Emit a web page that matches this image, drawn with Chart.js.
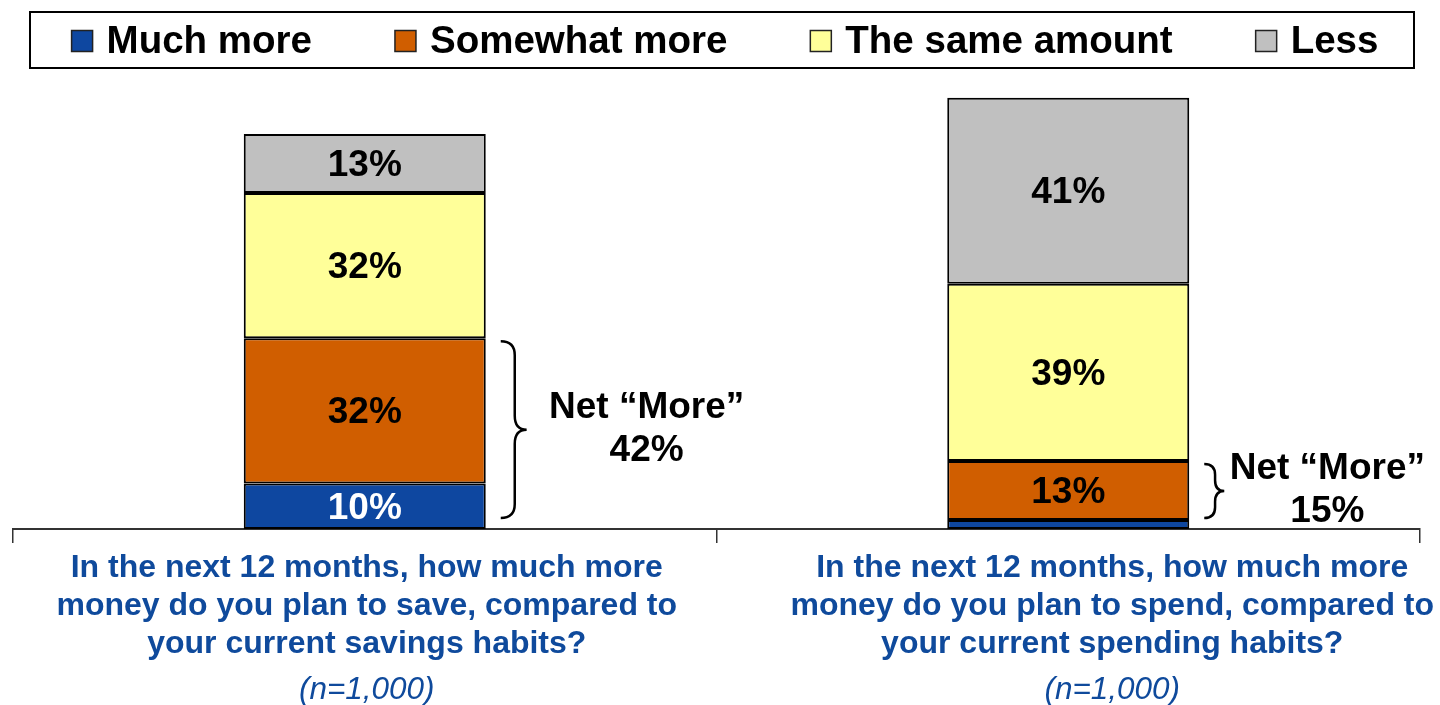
<!DOCTYPE html>
<html>
<head>
<meta charset="utf-8">
<title>Saving vs spending plans</title>
<script src="https://cdn.jsdelivr.net/npm/chart.js@4.4.1/dist/chart.umd.min.js"></script>
<style>
  html, body { margin: 0; padding: 0; background: #fff; }
  #wrap { width: 1440px; height: 705px; }
</style>
</head>
<body>
<div id="wrap"><canvas id="surveyChart" width="1440" height="705"></canvas></div>
<script>
// chart values
const categories = ["Save", "Spend"];
const seriesNames = ["Much more", "Somewhat more", "The same amount", "Less"];
const muchMore = [10, 2];
const somewhatMore = [32, 13];
const sameAmount = [32, 39];
const less = [13, 41];
const netMore = [42, 15];
const questionLines = [
    ["In the next 12 months, how much more", "money do you plan to save, compared to", "your current savings habits?"],
    ["In the next 12 months, how much more", "money do you plan to spend, compared to", "your current spending habits?"]
];
const sampleNote = ["(n=1,000)", "(n=1,000)"];

const seriesColors = ["#0E47A0", "#D05E00", "#FFFF99", "#C0C0C0"];
const labelColors = ["#ffffff", "#000000", "#000000", "#000000"];
const questionBlue = "#0F4A9C";
const FONT = "Arial, 'Liberation Sans', Helvetica, sans-serif";

document.addEventListener("DOMContentLoaded", () => {
    const ctx = document.getElementById("surveyChart").getContext("2d");

    // legend drawn in a framed box along the top
    const boxedLegend = {
        id: "boxedLegend",
        afterDraw(chart) {
            const c = chart.ctx;
            const mid = chart.width / 2 + 2;
            c.save();
            c.strokeStyle = "#000";
            c.lineWidth = 2;
            c.strokeRect(mid - 692, 12, 1384, 56);
            c.font = "bold 38.5px " + FONT;
            c.textBaseline = "middle";
            const items = chart.data.datasets.map(ds => ({ text: ds.label, color: ds.backgroundColor, w: c.measureText(ds.label).width }));
            const gap = 83, sw = 21, tgap = 14;
            let total = items.reduce((s, it) => s + sw + tgap + it.w, 0) + gap * (items.length - 1);
            let x = mid + 3 - total / 2;
            items.forEach(it => {
                c.fillStyle = it.color;
                c.fillRect(x, 30.5, sw, sw);
                c.lineWidth = 1.5;
                c.strokeStyle = "#222";
                c.strokeRect(x, 30.5, sw, sw);
                c.fillStyle = "#000";
                c.fillText(it.text, x + sw + tgap, 42);
                x += sw + tgap + it.w + gap;
            });
            c.restore();
        }
    };

    // percentages inside the segments
    const segmentLabels = {
        id: "segmentLabels",
        afterDatasetsDraw(chart) {
            const c = chart.ctx;
            c.save();
            c.font = "bold 37px " + FONT;
            c.textAlign = "center";
            c.textBaseline = "middle";
            chart.data.datasets.forEach((ds, di) => {
                chart.getDatasetMeta(di).data.forEach((bar, i) => {
                    const v = ds.data[i];
                    if (v < 5) return;
                    c.fillStyle = labelColors[di];
                    c.fillText(v + "%", bar.x, (bar.y + bar.base) / 2 + 2);
                });
            });
            c.restore();
        }
    };

    // curly brace + Net "More" note
    const netBraces = {
        id: "netBraces",
        afterDatasetsDraw(chart) {
            const c = chart.ctx;
            const lowMeta = chart.getDatasetMeta(0);
            const midMeta = chart.getDatasetMeta(1);
            c.save();
            netMore.forEach((v, i) => {
                const low = lowMeta.data[i], mid = midMeta.data[i];
                const right = low.x + low.width / 2;
                const top = mid.y + 3;
                const bottom = low.base - 11;
                const h = bottom - top;
                const r = Math.min(14, h / 5);
                const x0 = right + 15;
                const x1 = x0 + r;
                const x2 = x1 + r * 0.85;
                const cy = (top + bottom) / 2;
                c.beginPath();
                c.moveTo(x0, top);
                c.quadraticCurveTo(x1, top, x1, top + r);
                c.lineTo(x1, cy - r);
                c.quadraticCurveTo(x1, cy, x2, cy);
                c.quadraticCurveTo(x1, cy, x1, cy + r);
                c.lineTo(x1, bottom - r);
                c.quadraticCurveTo(x1, bottom, x0, bottom);
                c.strokeStyle = "#000";
                c.lineWidth = 2.5;
                c.stroke();

                c.font = "bold 37px " + FONT;
                c.fillStyle = "#000";
                c.textAlign = "center";
                c.textBaseline = "middle";
                const head = "Net \u201CMore\u201D";
                const w = c.measureText(head).width;
                const tx = Math.min(x2 + 120, chart.width - 15 - w / 2);
                c.fillText(head, tx, cy - 22);
                c.fillText(v + "%", tx, cy + 21);
            });
            c.restore();
        }
    };

    // question text under each bar
    const questionText = {
        id: "questionText",
        afterDraw(chart) {
            const c = chart.ctx;
            const xs = chart.scales.x;
            const base = chart.chartArea.bottom;
            const shift = [2, 44];
            c.save();
            c.fillStyle = questionBlue;
            c.textAlign = "center";
            c.textBaseline = "middle";
            categories.forEach((cat, i) => {
                const cx = xs.getPixelForValue(i) + shift[i];
                c.font = "bold 32px " + FONT;
                questionLines[i].forEach((line, li) => {
                    c.fillText(line, cx, base + 39 + li * 38);
                });
                c.font = "italic 31.5px " + FONT;
                c.fillText(sampleNote[i], cx, base + 161);
            });
            c.restore();
        }
    };

    const values = [muchMore, somewhatMore, sameAmount, less];

    new Chart(ctx, {
        type: "bar",
        data: {
            labels: categories,
            datasets: seriesNames.map((name, k) => ({
                label: name,
                data: values[k],
                backgroundColor: seriesColors[k],
                borderColor: "#000",
                borderWidth: 2,
                borderSkipped: false,
                categoryPercentage: 1,
                barPercentage: 0.344
            }))
        },
        options: {
            responsive: false,
            animation: false,
            layout: { padding: { top: 75, bottom: 162, left: 13, right: 20 } },
            plugins: {
                legend: { display: false },
                tooltip: { enabled: false }
            },
            scales: {
                x: {
                    stacked: true,
                    ticks: { display: false },
                    grid: {
                        display: true,
                        drawOnChartArea: false,
                        drawTicks: true,
                        tickLength: 14,
                        color: "#333",
                        lineWidth: 1.5
                    },
                    border: { display: true, color: "#333", width: 2 }
                },
                y: {
                    stacked: true,
                    display: false,
                    min: 0,
                    max: 100
                }
            }
        },
        plugins: [boxedLegend, segmentLabels, netBraces, questionText]
    });
});
</script>
</body>
</html>
